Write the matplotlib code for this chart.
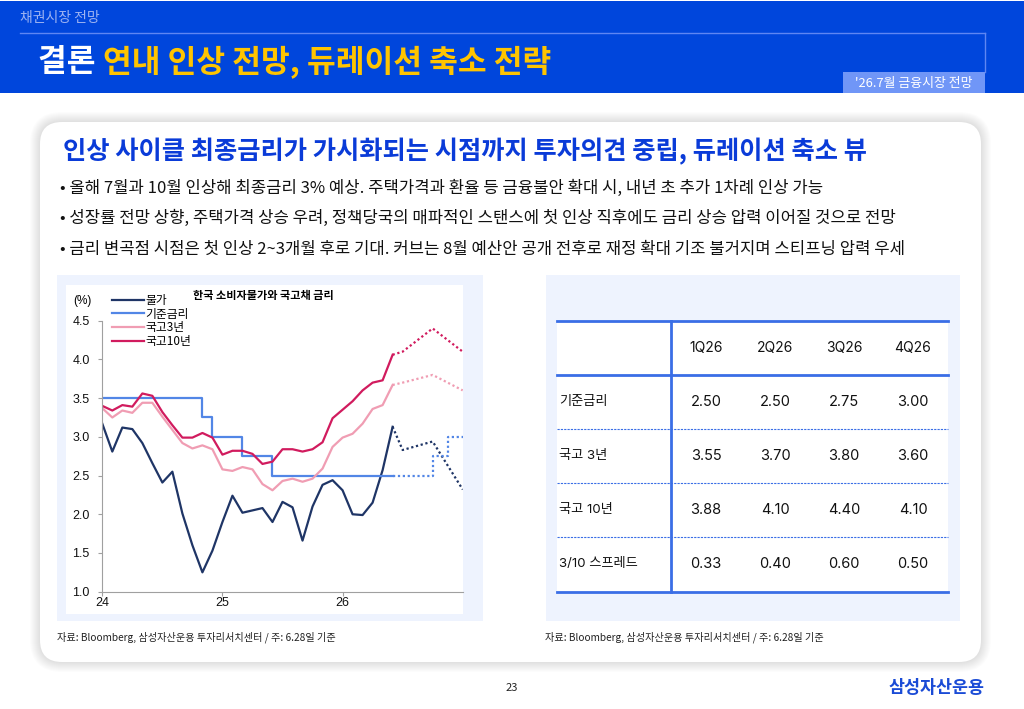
import matplotlib
matplotlib.use("Agg")
import matplotlib.pyplot as plt
from matplotlib.patches import Rectangle, FancyBboxPatch

plt.rcParams['font.family'] = ['Noto Sans CJK KR', 'DejaVu Sans']

# ---- chart data (monthly, index 0 = '24 tick) ----
cpi = [3.17, 2.81, 3.12, 3.10, 2.92, 2.66, 2.41, 2.55, 2.01, 1.60,
       1.25, 1.53, 1.90, 2.24, 2.02, 2.05, 2.08, 1.90, 2.16, 2.09,
       1.66, 2.10, 2.38, 2.44, 2.31, 2.00, 1.99, 2.15, 2.57, 3.13]
base = [3.50, 3.50, 3.50, 3.50, 3.50, 3.50, 3.50, 3.50, 3.50, 3.50,
        3.25, 3.00, 3.00, 3.00, 2.75, 2.75, 2.75, 2.50, 2.50, 2.50,
        2.50, 2.50, 2.50, 2.50, 2.50, 2.50, 2.50, 2.50, 2.50, 2.50]
ktb3 = [3.37, 3.25, 3.34, 3.31, 3.44, 3.44, 3.26, 3.09, 2.92, 2.85,
        2.89, 2.84, 2.58, 2.56, 2.61, 2.58, 2.39, 2.31, 2.43, 2.46,
        2.42, 2.46, 2.59, 2.87, 2.99, 3.04, 3.17, 3.36, 3.41, 3.67]
ktb10 = [3.40, 3.34, 3.41, 3.39, 3.56, 3.53, 3.32, 3.15, 2.99, 2.99,
         3.05, 2.99, 2.77, 2.82, 2.82, 2.78, 2.65, 2.68, 2.84, 2.84,
         2.81, 2.84, 2.93, 3.24, 3.35, 3.46, 3.60, 3.70, 3.73, 4.06]
months = list(range(len(cpi)))

# forecasts (dotted)
fc_x = [29, 30, 33, 36]
cpi_fc = [3.13, 2.83, 2.94, 2.32]
ktb3_fc = [3.67, 3.70, 3.80, 3.60]
ktb10_fc = [4.06, 4.10, 4.40, 4.10]
base_fc_x = [29, 33, 34.5, 36]
base_fc = [2.50, 2.75, 3.00, 3.00]

year_ticks = [0, 12, 24]
year_labels = ['24', '25', '26']

# ---- table data ----
quarters = ['1Q26', '2Q26', '3Q26', '4Q26']
row_names = ['기준금리', '국고 3년', '국고 10년', '3/10 스프레드']
table_vals = [['2.50', '2.50', '2.75', '3.00'],
              ['3.55', '3.70', '3.80', '3.60'],
              ['3.88', '4.10', '4.40', '4.10'],
              ['0.33', '0.40', '0.60', '0.50']]

bullets = [
    '• 올해 7월과 10월 인상해 최종금리 3% 예상. 주택가격과 환율 등 금융불안 확대 시, 내년 초 추가 1차례 인상 가능',
    '• 성장률 전망 상향, 주택가격 상승 우려, 정책당국의 매파적인 스탠스에 첫 인상 직후에도 금리 상승 압력 이어질 것으로 전망',
    '• 금리 변곡점 시점은 첫 인상 2~3개월 후로 기대. 커브는 8월 예산안 공개 전후로 재정 확대 기조 불거지며 스티프닝 압력 우세',
]
source = '자료: Bloomberg, 삼성자산운용 투자리서치센터 / 주: 6.28일 기준'

W, H = 1024, 709
fig = plt.figure(figsize=(W / 100, H / 100), dpi=100)
fig.patch.set_facecolor('white')

bg = fig.add_axes([0, 0, 1, 1])
bg.set_xlim(0, W)
bg.set_ylim(H, 0)
bg.axis('off')

# header
bg.add_patch(Rectangle((0, 1), W, 92, color='#0046DC', lw=0))
bg.text(20, 18, '채권시장 전망', color='#9FB4F2', fontsize=10, va='center')
bg.plot([20, 985], [33, 33], color='#5F86F2', lw=1)
bg.plot([985, 985], [33, 72], color='#5F86F2', lw=1)
bg.add_patch(Rectangle((843, 72), 142, 21, color='#7096F7', lw=0))
bg.text(914, 83, "'26.7월 금융시장 전망", color='white', fontsize=9.3, ha='center', va='center')
t = bg.text(38, 62, '결론 ', color='white', fontsize=22.5, fontweight='bold', va='center')
bg.annotate('연내 인상 전망, 듀레이션 축소 전략', xycoords=t, xy=(1, 0.5), va='center',
            color='#FFC400', fontsize=22.5, fontweight='bold')

# card with soft shadow
for i in range(10, 0, -1):
    bg.add_patch(FancyBboxPatch((40 - i, 122 - i), 941 + 2 * i, 540 + 2 * i,
                                boxstyle='round,pad=0,rounding_size=%d' % (22 + i),
                                fc='#000000', ec='none', alpha=0.012))
bg.add_patch(FancyBboxPatch((40, 122), 941, 540, boxstyle='round,pad=0,rounding_size=22',
                            fc='white', ec='none'))

bg.text(63, 152, '인상 사이클 최종금리가 가시화되는 시점까지 투자의견 중립, 듀레이션 축소 뷰',
        color='#0A3BD8', fontsize=18.2, fontweight='bold', va='center')
for k, b in enumerate(bullets):
    bg.text(60, 188 + k * 30.5, b, color='#111111', fontsize=12, va='center')

# panels
bg.add_patch(Rectangle((57, 275), 426, 346, color='#EEF3FE', lw=0))
bg.add_patch(Rectangle((66, 285), 397, 329, color='white', lw=0))
bg.add_patch(Rectangle((546, 275), 414, 346, color='#EEF3FE', lw=0))
bg.add_patch(Rectangle((557, 321), 391, 271, color='white', lw=0))

# table
tcol = '#3A6EE6'
tfam = ['Inter', 'Noto Sans CJK KR']
col_x = [706, 775, 844, 913]
row_y = [402, 456, 510, 564]
bg.plot([557, 948], [321, 321], color=tcol, lw=2)
bg.plot([557, 948], [375, 375], color=tcol, lw=2)
for yy in [429, 483, 537]:
    bg.plot([557, 948], [yy, yy], color=tcol, lw=0.8, ls=(0, (2, 1)))
bg.plot([557, 948], [592, 592], color=tcol, lw=2)
bg.plot([671, 671], [321, 592], color=tcol, lw=2)
for q, cx in zip(quarters, col_x):
    bg.text(cx, 348, q, ha='center', va='center', fontsize=10, color='#111111', family=tfam)
for r, (name, vals) in enumerate(zip(row_names, table_vals)):
    bg.text(559, row_y[r], name, ha='left', va='center', fontsize=9.5, color='#111111',
            family=tfam)
    for cx, v in zip(col_x, vals):
        bg.text(cx, row_y[r], v, ha='center', va='center', fontsize=10.5, color='#111111',
                family=tfam)

# sources and footer
bg.text(57, 637, source, fontsize=7.3, color='#222222', va='center')
bg.text(545, 637, source, fontsize=7.3, color='#222222', va='center')
bg.text(512, 688, '23', fontsize=8, color='#222222', ha='center', va='center')
bg.text(985, 688, '삼성자산운용', fontsize=12.5, color='#1A4BD6', fontweight='bold',
        ha='right', va='center')

# ---- line chart ----
x0, x1 = 102.3, 462.7
y0, y1 = 591.7, 320.7
ax = fig.add_axes([x0 / W, (H - y0) / H, (x1 - x0) / W, (y0 - y1) / H])
ax.set_facecolor('none')
c_cpi, c_base, c_3, c_10 = '#1F3566', '#5286E6', '#F09DB3', '#D11B5E'
lw = 1.6
dot = (0, (1, 1.2))
ax.plot(months, cpi, color=c_cpi, lw=lw, label='물가')
ax.plot(months, base, color=c_base, lw=lw, drawstyle='steps-post', label='기준금리')
ax.plot(months, ktb3, color=c_3, lw=lw, label='국고3년')
ax.plot(months, ktb10, color=c_10, lw=lw, label='국고10년')
ax.plot(fc_x, cpi_fc, color=c_cpi, lw=lw, ls=dot)
ax.plot(base_fc_x, base_fc, color=c_base, lw=lw, ls=dot, drawstyle='steps-post')
ax.plot(fc_x, ktb3_fc, color=c_3, lw=lw, ls=dot)
ax.plot(fc_x, ktb10_fc, color=c_10, lw=lw, ls=dot)

ax.set_xlim(0, 36)
ax.set_ylim(1.0, 4.5)
ax.set_yticks([1.0, 1.5, 2.0, 2.5, 3.0, 3.5, 4.0, 4.5])
ax.set_yticklabels(['%.1f' % v for v in ax.get_yticks()])
ax.set_xticks(year_ticks)
ax.set_xticklabels(year_labels)
for s in ['top', 'right']:
    ax.spines[s].set_visible(False)
for s in ['left', 'bottom']:
    ax.spines[s].set_color('#A0A0A0')
    ax.spines[s].set_linewidth(0.8)
ax.tick_params(axis='both', colors='#A0A0A0', labelcolor='#111111', length=3, width=0.8,
               labelsize=9)
ax.tick_params(axis='x', pad=1)
ax.tick_params(axis='y', pad=6)
for lab in ax.get_xticklabels() + ax.get_yticklabels():
    lab.set_family(['Liberation Sans', 'Noto Sans CJK KR'])

ax.legend(loc='upper left', bbox_to_anchor=(112 / W, (H - 294) / H),
          bbox_transform=fig.transFigure, frameon=False, fontsize=8.5,
          handlelength=2.7, handletextpad=0.15, labelspacing=0.05, borderpad=0,
          borderaxespad=0)
bg.text(82, 301, '(%)', fontsize=8.5, ha='center', va='center',
        family=['Liberation Sans', 'Noto Sans CJK KR'])
bg.text(263, 295, '한국 소비자물가와 국고채 금리', fontsize=8, fontweight='bold',
        ha='center', va='center')

fig.savefig('out.png', dpi=100)
